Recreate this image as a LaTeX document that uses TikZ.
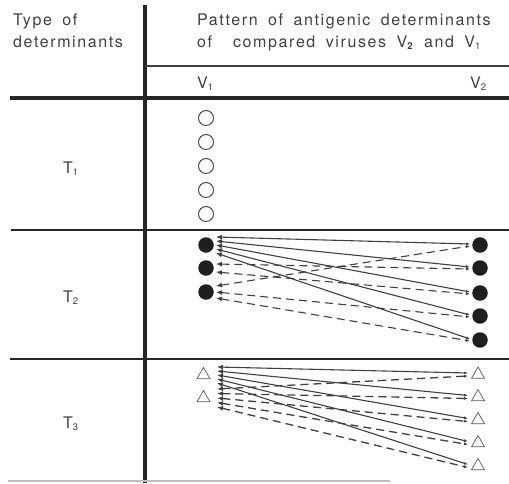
\documentclass[tikz,border=0pt]{standalone}
\usepackage{fontspec}
\setmainfont[LetterSpace=10]{TeX Gyre Heros}
\usetikzlibrary{arrows.meta,shapes.geometric}

% small lowered index used in V1, V2, T1 ...
\newcommand\lowidx[1]{\raisebox{-0.35ex}{\fontsize{9.5}{9.5}\selectfont #1}}

\tikzset{
  heavyrule/.style={line width=4.2pt, black!85},
  midrule/.style={line width=2.4pt, black!85},
  thinrule/.style={line width=1.4pt, black!75},
  lbl/.style={anchor=base west, inner sep=0pt, text=black!75,
              font=\fontsize{16}{19}\selectfont},
  widelbl/.style={lbl, execute at begin node={\spaceskip=10.5pt\relax}},
  opendet/.style={circle, draw=black!70, line width=1pt, minimum size=15pt, inner sep=0pt},
  fulldet/.style={circle, fill=black!88, minimum size=15.5pt, inner sep=0pt},
  tridet/.style={regular polygon, regular polygon sides=3, draw=black!65,
                 line width=0.7pt, minimum size=15pt, inner sep=0pt},
  link/.style={line width=1.1pt, black!75,
               {Latex[length=6pt,width=5pt]}-{Latex[length=4pt,width=3pt]}},
  dlink/.style={link, dash pattern=on 8pt off 5pt},
}

\begin{document}
\begin{tikzpicture}[x=1pt,y=-1pt]
\useasboundingbox (0,0) rectangle (509,483);

% table rules
\draw[heavyrule] (145,5) -- (145,483);
\draw[thinrule] (145,66) -- (509,66);
\draw[heavyrule] (10,98) -- (509,98);
\draw[midrule] (11,230) -- (509,230);
\draw[midrule] (10,359) -- (509,359);
\draw[line width=1.2pt, black!25] (8,481) -- (390,481);

% headings
\node[widelbl] (h1) at (13,25) {Type of};
\node[lbl] (h2) at (13,47) {determinants};
\node[widelbl] (h3) at (197,25) {Pattern of antigenic determinants};
\node[widelbl] (h4) at (197,47) {of\hspace{21pt}compared viruses V\lowidx{\textbf{2}} and V\lowidx{1}};
\node[lbl] (v1) at (197,88) {V\lowidx{1}};
\node[lbl] (v2) at (470,88) {V\lowidx{2}};

\node[lbl] (t1) at (63,173) {T\lowidx{1}};
\node[lbl] (t2) at (63,302) {T\lowidx{2}};
\node[lbl] (t3) at (63,428) {T\lowidx{3}};

% type T1 : only in V1
\foreach \i/\y in {1/118,2/142,3/166,4/190,5/214}
  \node[opendet] (a\i) at (206,\y) {};

% type T2
\foreach \i/\y in {1/245,2/268,3/292}
  \node[fulldet] (bl\i) at (206,\y) {};
\foreach \i/\y in {1/245,2/268,3/293,4/316,5/340}
  \node[fulldet] (br\i) at (480,\y) {};

\draw[link] ([xshift=2pt,yshift=8pt]bl1.east) -- ([xshift=-2pt,yshift=1pt]br1.west);
\draw[link] ([xshift=2pt,yshift=4pt]bl1.east) -- ([xshift=-2pt,yshift=1pt]br2.west);
\draw[link] ([xshift=2pt,yshift=0pt]bl1.east) -- ([xshift=-2pt,yshift=1pt]br3.west);
\draw[link] ([xshift=2pt,yshift=-4pt]bl1.east) -- ([xshift=-2pt,yshift=1pt]br4.west);
\draw[link] ([xshift=2pt,yshift=-8pt]bl1.east) -- ([xshift=-2pt,yshift=1pt]br5.west);

\draw[dlink] ([xshift=2pt,yshift=4pt]bl2.east) -- ([xshift=-2pt,yshift=-1pt]br2.west);
\draw[dlink] ([xshift=2pt,yshift=-4pt]bl2.east) -- ([xshift=-2pt,yshift=-1pt]br3.west);

\draw[dlink] ([xshift=2pt,yshift=6pt]bl3.east) -- ([xshift=-2pt,yshift=-1pt]br1.west);
\draw[dlink] ([xshift=2pt,yshift=0pt]bl3.east) -- ([xshift=-2pt,yshift=-1pt]br4.west);
\draw[dlink] ([xshift=2pt,yshift=-6pt]bl3.east) -- ([xshift=-2pt,yshift=-1pt]br5.west);

% type T3
\foreach \i/\y in {1/375,2/398}
  \node[tridet] (cl\i) at (203.5,\y) {};
\foreach \i/\y in {1/374.5,2/397,3/420,4/443,5/466}
  \node[tridet] (cr\i) at (478,\y) {};

\foreach \k/\s in {1/8,2/4,3/0,4/-4,5/-8}
  \draw[link] ([xshift=217pt-203.5pt,yshift=\s pt]cl1.center) -- ([xshift=-10pt,yshift=1.5pt]cr\k.center);
\foreach \k/\s in {1/9,2/4.5,3/0,4/-4.5,5/-9}
  \draw[dlink, line width=1.3pt] ([xshift=217pt-203.5pt,yshift=\s pt]cl2.center) -- ([xshift=-10pt,yshift=-1.5pt]cr\k.center);

\end{tikzpicture}
\end{document}
